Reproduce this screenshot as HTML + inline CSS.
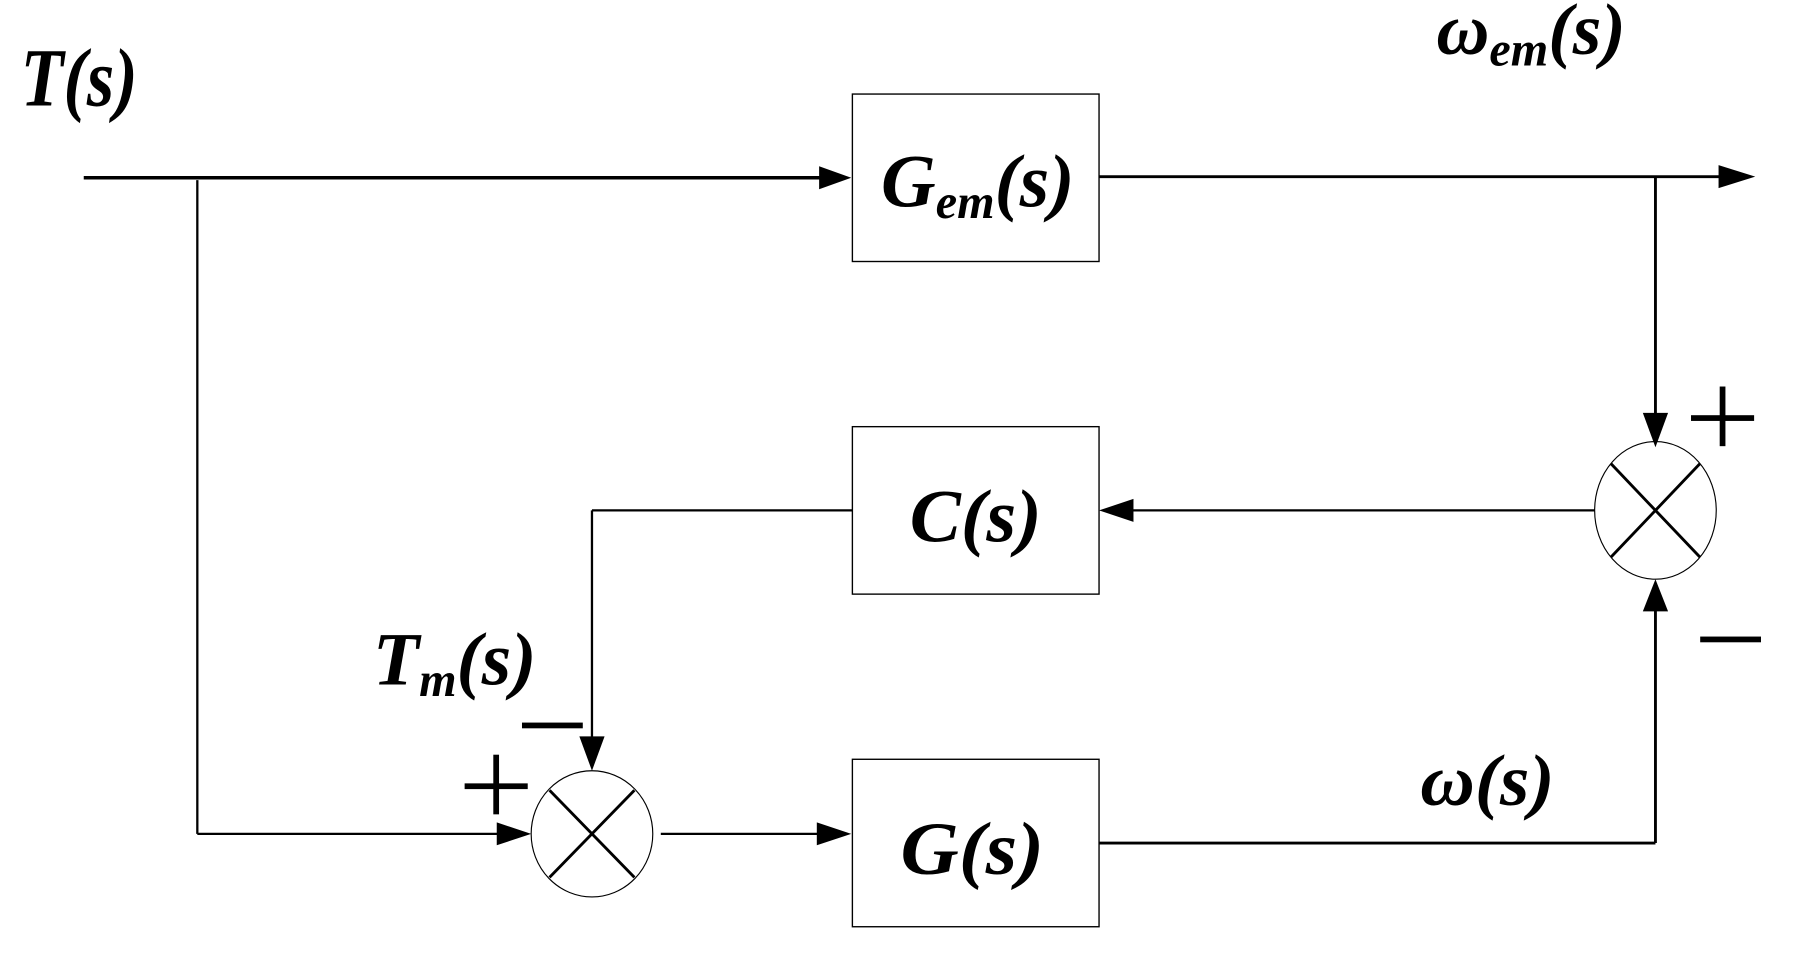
<!DOCTYPE html>
<html><head><meta charset="utf-8"><style>
html,body{margin:0;padding:0;background:#fff;width:1800px;height:960px;overflow:hidden}
svg{display:block}
text{font-family:"Liberation Serif",serif;font-weight:bold;font-style:italic;fill:#000}
</style></head><body>
<svg width="1800" height="960" viewBox="0 0 1569 837" preserveAspectRatio="none" xmlns="http://www.w3.org/2000/svg">
<g stroke="#000" fill="none">
<rect x="743" y="82" width="215" height="146" stroke-width="1.2"/>
<rect x="743" y="372" width="215" height="146" stroke-width="1.2"/>
<rect x="743" y="662" width="215" height="146" stroke-width="1.2"/>
<line x1="73" y1="155" x2="716" y2="155" stroke-width="3"/>
<line x1="172" y1="157" x2="172" y2="727" stroke-width="2"/>
<line x1="172" y1="727" x2="437" y2="727" stroke-width="2"/>
<line x1="958" y1="154" x2="1503" y2="154" stroke-width="2.5"/>
<line x1="1443" y1="154" x2="1443" y2="362" stroke-width="2.5"/>
<ellipse cx="1443" cy="445" rx="53" ry="60" stroke-width="1"/>
<line x1="1404" y1="404" x2="1482" y2="486" stroke-width="2.5"/>
<line x1="1482" y1="404" x2="1404" y2="486" stroke-width="2.5"/>
<line x1="1390" y1="445" x2="985" y2="445" stroke-width="2"/>
<line x1="743" y1="445" x2="516" y2="445" stroke-width="2"/>
<line x1="516" y1="445" x2="516" y2="645" stroke-width="2"/>
<ellipse cx="516" cy="727" rx="53" ry="55" stroke-width="1"/>
<line x1="479" y1="689" x2="553" y2="765" stroke-width="2.5"/>
<line x1="553" y1="689" x2="479" y2="765" stroke-width="2.5"/>
<line x1="576" y1="727" x2="716" y2="727" stroke-width="2"/>
<line x1="958" y1="735" x2="1443" y2="735" stroke-width="2.5"/>
<line x1="1443" y1="735" x2="1443" y2="530" stroke-width="2.5"/>
</g>
<g fill="#000">
<polygon points="742,155 714,145 714,165"/>
<polygon points="1530,154 1498,144 1498,164"/>
<polygon points="1443,390 1432,360 1454,360"/>
<polygon points="958,445 988,435 988,455"/>
<polygon points="516,672 505,642 527,642"/>
<polygon points="463,727 433,717 433,737"/>
<polygon points="742,727 712,717 712,737"/>
<polygon points="1443,505 1432,533 1454,533"/>
<rect x="1474" y="362" width="55" height="5"/>
<rect x="1499" y="337" width="5" height="52"/>
<rect x="1482" y="555" width="53" height="5"/>
<rect x="455" y="630" width="53" height="5"/>
<rect x="405" y="683" width="55" height="5"/>
<rect x="430" y="658" width="5" height="52"/>
</g>
<g>
<text x="18" y="92" font-size="72" textLength="102" lengthAdjust="spacingAndGlyphs">T(s)</text>
<text x="768" y="180" font-size="66">G<tspan font-size="42" dy="10">em</tspan><tspan dy="-10">(s)</tspan></text>
<text x="793" y="472" font-size="66" textLength="115" lengthAdjust="spacingAndGlyphs">C(s)</text>
<text x="785" y="762" font-size="66" textLength="125" lengthAdjust="spacingAndGlyphs">G(s)</text>
<text x="1252" y="47" font-size="64">ω<tspan font-size="42" dy="10">em</tspan><tspan dy="-10">(s)</tspan></text>
<text x="1238" y="702" font-size="64" textLength="117" lengthAdjust="spacingAndGlyphs">ω(s)</text>
<text x="325" y="597" font-size="66">T<tspan font-size="42" dy="10">m</tspan><tspan dy="-10">(s)</tspan></text>
</g>
</svg>
</body></html>
